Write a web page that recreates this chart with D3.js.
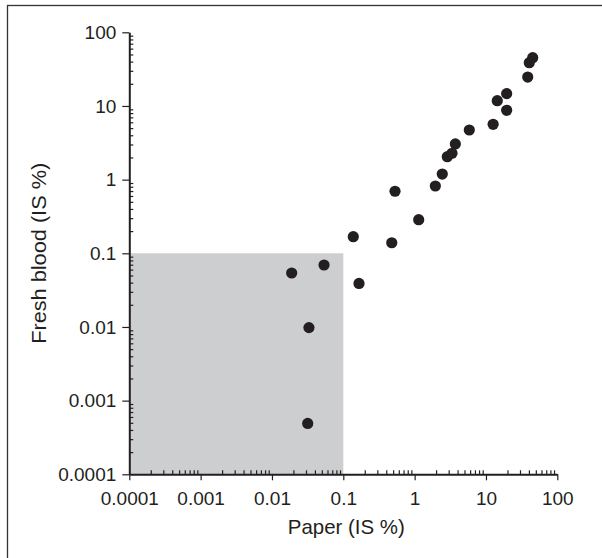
<!DOCTYPE html>
<html>
<head>
<meta charset="utf-8">
<script src="https://cdn.jsdelivr.net/npm/d3@7"></script>
<style>
  html, body { margin: 0; padding: 0; background: #fff; }
  svg text { font-family: "Liberation Sans", Arial, sans-serif; fill: #231f20; }
</style>
</head>
<body>
<svg id="chart"></svg>
<script>
// paper vs fresh blood, IS %
const paperVals = [45.2, 40.5, 38.5, 19.5, 14.4, 19.5, 12.6, 5.84, 3.72, 3.34, 2.87, 2.44, 1.95,
  0.531, 1.14, 0.138, 0.478, 0.0537, 0.0189, 0.166, 0.033, 0.0317];
const bloodVals = [45.2, 38.7, 24.7, 14.7, 11.8, 8.74, 5.64, 4.72, 3.05, 2.28, 2.05, 1.19, 0.82,
  0.695, 0.286, 0.168, 0.139, 0.0694, 0.054, 0.039, 0.0098, 0.00049];
const tickVals = [0.0001, 0.001, 0.01, 0.1, 1, 10, 100];
const tickLabels = ['0.0001', '0.001', '0.01', '0.1', '1', '10', '100'];
const cutoff = 0.1;

const W = 602, H = 558;
const margin = { top: 32.3, right: 44.7, bottom: 83.7, left: 129.3 };
const width = W - margin.left - margin.right;
const height = H - margin.top - margin.bottom;

const svg = d3.select('#chart').attr('width', W).attr('height', H);

// frame (only left and top show, the rest is cut off)
svg.append('rect')
  .attr('x', 7.5).attr('y', 5.5)
  .attr('width', W + 10).attr('height', H + 10)
  .attr('fill', 'none')
  .attr('stroke', '#333')
  .attr('stroke-width', 1.3);

const x = d3.scaleLog().domain([0.0001, 100]).range([0, width]);
const y = d3.scaleLog().domain([0.0001, 100]).range([height, 0]);

const g = svg.append('g').attr('transform', `translate(${margin.left},${margin.top})`);

// shaded region below cutoff
g.append('rect')
  .attr('x', x(0.0001))
  .attr('y', y(cutoff))
  .attr('width', x(cutoff) - x(0.0001))
  .attr('height', y(0.0001) - y(cutoff))
  .attr('fill', '#cdced0');

const minorTicks = [];
tickVals.slice(0, -1).forEach(v => {
  for (let k = 2; k <= 9; k++) minorTicks.push(v * k);
});

const fmt = (d) => tickLabels[tickVals.indexOf(d)];

// x axis
const xMinor = g.append('g')
  .attr('transform', `translate(0,${height})`)
  .call(d3.axisTop(x).tickValues(minorTicks).tickSize(4).tickFormat(''));
xMinor.select('.domain').remove();

const xAxis = g.append('g')
  .attr('class', 'axis axis--x')
  .attr('transform', `translate(0,${height})`)
  .call(d3.axisBottom(x).tickValues(tickVals).tickFormat(fmt).tickSizeInner(6).tickSizeOuter(0).tickPadding(11));

// y axis
const yMinor = g.append('g')
  .call(d3.axisRight(y).tickValues(minorTicks).tickSize(4).tickFormat(''));
yMinor.select('.domain').remove();

const yAxis = g.append('g')
  .attr('class', 'axis axis--y')
  .call(d3.axisLeft(y).tickValues(tickVals).tickFormat(fmt).tickSizeInner(7).tickSizeOuter(0).tickPadding(6));

g.selectAll('.axis .domain').attr('stroke', '#231f20').attr('stroke-width', 2);
g.selectAll('line').attr('stroke', '#231f20').attr('stroke-width', 1.2);
g.selectAll('.axis text').attr('font-size', 19).style('font-family', '"Liberation Sans", Arial, sans-serif').attr('fill', '#231f20');

// dots
g.append('g')
  .selectAll('circle')
  .data(paperVals.map((p, i) => ({ p, b: bloodVals[i] })))
  .enter()
  .append('circle')
    .attr('cx', d => x(d.p))
    .attr('cy', d => y(d.b))
    .attr('r', 5.6)
    .attr('fill', '#231f20');

// titles
svg.append('text')
  .attr('x', margin.left + width / 2 + 3)
  .attr('y', 534)
  .attr('text-anchor', 'middle')
  .attr('font-size', 21)
  .attr('textLength', 117)
  .attr('lengthAdjust', 'spacingAndGlyphs')
  .text('Paper (IS %)');

svg.append('text')
  .attr('transform', `translate(46,${margin.top + height / 2}) rotate(-90)`)
  .attr('text-anchor', 'middle')
  .attr('font-size', 21)
  .attr('textLength', 181)
  .attr('lengthAdjust', 'spacingAndGlyphs')
  .text('Fresh blood (IS %)');
</script>
</body>
</html>
